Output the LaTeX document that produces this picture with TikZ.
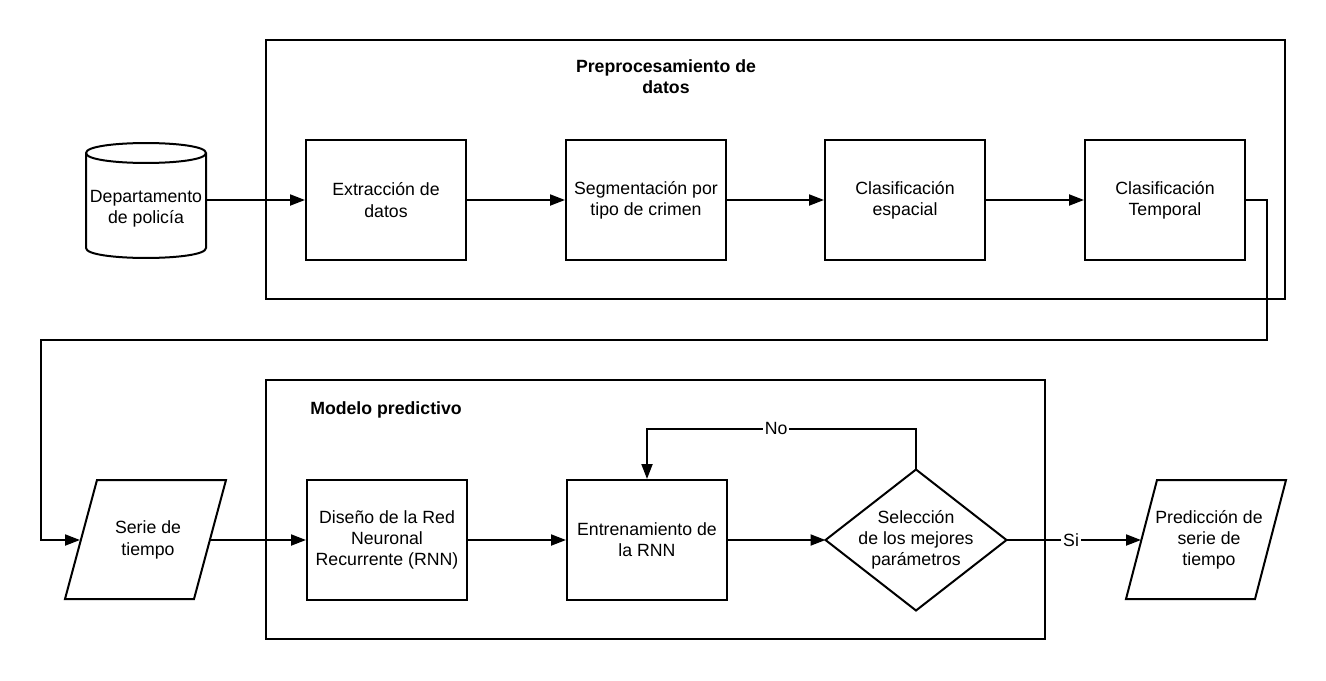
\documentclass[tikz,border=0pt]{standalone}
\usepackage{fontspec}
\setmainfont{Liberation Sans}
\usetikzlibrary{arrows.meta,shapes.geometric}
\begin{document}
\begin{tikzpicture}[x=0.5pt,y=-0.5pt,
  line width=1pt,
  every node/.style={font=\fontsize{8.85}{10.6}\selectfont},
  box/.style={draw,rectangle,minimum width=80pt,minimum height=60pt,inner sep=0pt,align=center},
  frame/.style={draw,line width=1pt},
  txt/.style={align=center,inner sep=0pt},
  title/.style={align=center,inner sep=0pt,font=\fontsize{8.85}{10.6}\selectfont\bfseries},
  lbl/.style={fill=white,inner sep=1pt},
  arr/.style={-{Triangle[length=7.5pt,width=5.5pt]}}
]
\useasboundingbox (0,0) rectangle (1326,680);
% containers
\draw[frame] (266,40) rectangle (1285,299);
\draw[frame] (266,380) rectangle (1045,639);
\node[title] (t1) at (666,77) {Preprocesamiento de\\datos};
\node[title] (t2) at (386,410) {Modelo predictivo};
% cylinder
\draw[fill=white] (86,153) -- (86,248) .. controls (86,261.3) and (206,261.3) .. (206,248)
  -- (206,153) .. controls (206,139.7) and (86,139.7) .. (86,153) -- cycle;
\draw (86,153) .. controls (86,166.3) and (206,166.3) .. (206,153);
\node[txt] (db) at (146,209) {Departamento\\de policía};
\coordinate (dbE) at (206,200);
% top row boxes
\node[box] (extr) at (386,200) {Extracción de\\datos};
\node[box] (seg) at (646,200) {Segmentación por\\tipo de crimen};
\node[box] (esp) at (905,200) {Clasificación\\espacial};
\node[box] (temp) at (1165,200) {Clasificación\\Temporal};
% serie de tiempo parallelogram
\draw (97,480) -- (226,480) -- (194,599) -- (65,599) -- cycle;
\node[txt] (serie) at (148,540) {Serie de\\tiempo};
\coordinate (serieW) at (80,540);
\coordinate (serieE) at (210,540);
% bottom row
\node[box] (dis) at (387,540) {Diseño de la Red\\Neuronal\\Recurrente (RNN)};
\node[box] (ent) at (647,540) {Entrenamiento de\\la RNN};
\node[draw,diamond,minimum width=90.5pt,minimum height=70.5pt,inner sep=0pt,outer sep=0pt] (sel) at (916,540) {};
\node[txt] (seltxt) at (916,540) {Selección\\de los mejores\\parámetros};
% prediccion parallelogram
\draw (1157,480) -- (1286,480) -- (1255,599) -- (1126,599) -- cycle;
\node[txt] (pred) at (1209,540) {Predicción de\\serie de\\tiempo};
\coordinate (predW) at (1141,540);
% connectors
\coordinate (c1) at (1267,340);
\coordinate (c2) at (41,340);
\draw[arr] (dbE) -- (extr.west);
\draw[arr] (extr) -- (seg);
\draw[arr] (seg) -- (esp);
\draw[arr] (esp) -- (temp);
\draw[arr] (temp.east) -| (c1) -- (c2) |- (serieW);
\draw[arr] (serieE) -- (dis.west);
\draw[arr] (dis) -- (ent);
\draw[arr] (ent) -- (sel.west);
\draw[arr] (sel.north) -- ++(0,-41) -| node[lbl,pos=0.26] {No} (ent.north);
\draw[arr] (sel.east) -- node[lbl,pos=0.48] {Si} (predW);
\end{tikzpicture}
\end{document}
